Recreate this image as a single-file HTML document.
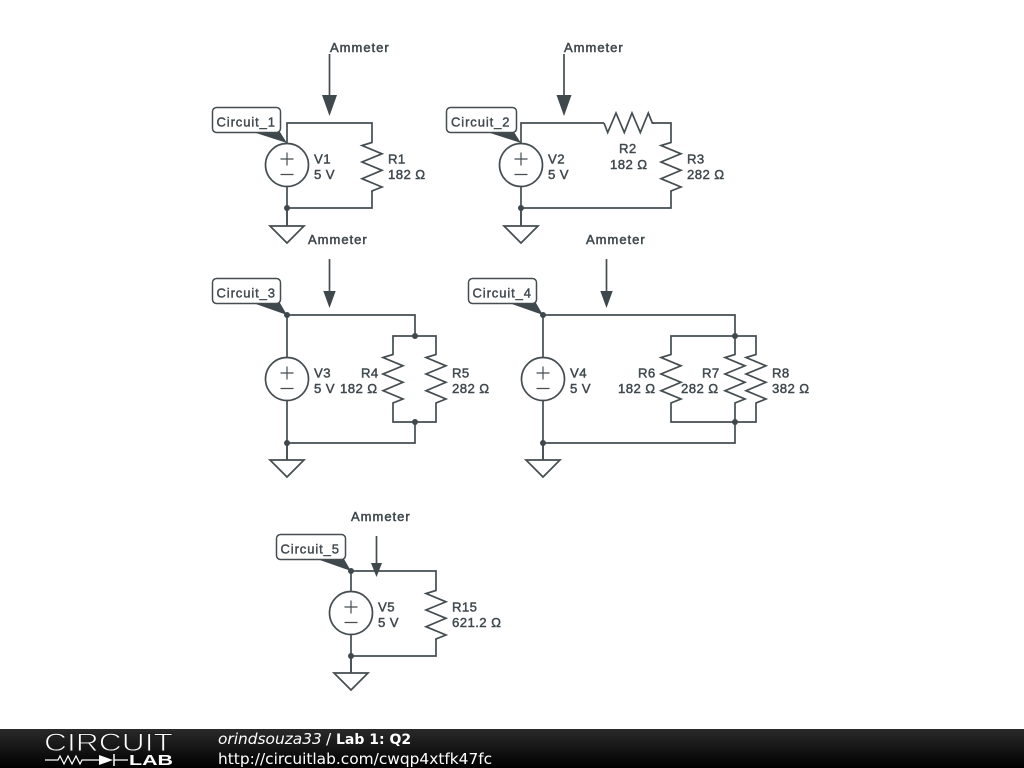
<!DOCTYPE html>
<html>
<head>
<meta charset="utf-8">
<style>
html,body{margin:0;padding:0;background:#fff;width:1024px;height:768px;overflow:hidden}
svg{display:block}
.w{fill:none;stroke:#454d51;stroke-width:1.7;stroke-linejoin:miter}
.t{font-family:"Liberation Sans",sans-serif;font-size:13.2px;fill:#3f484d;stroke:#3f484d;stroke-width:.45;letter-spacing:.4px}
.a{font-family:"Liberation Sans",sans-serif;font-size:13px;fill:#3f484d;stroke:#3f484d;stroke-width:.5;letter-spacing:1px}
.c{font-family:"Liberation Sans",sans-serif;font-size:13px;fill:#3f484d;stroke:#3f484d;stroke-width:.4;letter-spacing:.9px}
.f{font-family:"DejaVu Sans",sans-serif;font-size:15.4px;fill:#fff}
</style>
</head>
<body>
<svg width="1024" height="768" viewBox="0 0 1024 768" xmlns="http://www.w3.org/2000/svg">
<defs>
<linearGradient id="g" x1="0" y1="0" x2="0" y2="1"><stop offset="0" stop-color="#2a2a2a"/><stop offset="1" stop-color="#000"/></linearGradient>
<g id="res"><polyline class="w" points="0,0 0,0.500 -10,3.500 10,11.800 -10,20 10,28.300 -10,36.700 10,45 0,49 0,50"/></g>
<g id="src"><circle class="w" cx="0" cy="0" r="21.500" fill="#fff"/><path class="w" style="stroke-width:1.2" d="M-6.500,-6H6.500M0,-12.500V0.500M-6.500,9.500H6.500"/></g>
<g id="gnd"><path class="w" d="M0,-17V0M-17,0H17L0,17Z"/></g>
</defs>

<!-- Circuit 1 -->
<path class="w" d="M287,143V123H372V142M372,191V208H287M287,187V226"/>
<use href="#src" x="287" y="165"/>
<use href="#res" x="372" y="142"/>
<use href="#gnd" x="287" y="226"/>
<circle cx="287" cy="208" r="3" fill="#3f484d"/>
<path class="w" d="M329.500,54V98"/><path d="M322,95H337L329.500,116Z" fill="#3f484d"/>
<text class="a" x="330" y="52">Ammeter</text>
<path d="M253,132L280,132L287,143Z" fill="#3f484d"/>
<rect x="212.500" y="107.500" width="68" height="25" rx="4" fill="#fff" stroke="#454d51" stroke-width="1.500"/>
<text class="c" x="216.500" y="126.500">Circuit_1</text>
<text class="t" x="314" y="163.500">V1</text><text class="t" x="314" y="179">5 V</text>
<text class="t" x="388" y="163.500">R1</text><text class="t" x="388" y="179">182 Ω</text>

<!-- Circuit 2 -->
<path class="w" d="M521,143V123H604M652,123H671V142M671,191V208H521M521,187V226"/>
<use href="#src" x="521" y="165"/>
<use href="#res" x="671" y="142"/>
<polyline class="w" points="604,123 607.700,132.500 616,113 624.300,132.500 632,113 640.300,132.500 648.300,113 652.300,123 654,123"/>
<use href="#gnd" x="521" y="226"/>
<circle cx="521" cy="208" r="3" fill="#3f484d"/>
<path class="w" d="M564,54V98"/><path d="M556.500,95H571.500L564,116Z" fill="#3f484d"/>
<text class="a" x="564" y="52">Ammeter</text>
<path d="M487,132L514,132L521,143Z" fill="#3f484d"/>
<rect x="446.500" y="107.500" width="70" height="25" rx="4" fill="#fff" stroke="#454d51" stroke-width="1.500"/>
<text class="c" x="451" y="126.500">Circuit_2</text>
<text class="t" x="548" y="163.500">V2</text><text class="t" x="548" y="179">5 V</text>
<text class="t" x="619" y="153">R2</text><text class="t" x="610" y="169">182 Ω</text>
<text class="t" x="687" y="163.500">R3</text><text class="t" x="687" y="179">282 Ω</text>

<!-- Circuit 3 -->
<path class="w" d="M287,357V315H415V336M393,354V336H436V354M393,404V422H436V404M415,422V443H287M287,401V460"/>
<use href="#src" x="287" y="379"/>
<use href="#res" x="393" y="354"/>
<use href="#res" x="436" y="354"/>
<use href="#gnd" x="287" y="460"/>
<circle cx="287" cy="315" r="3" fill="#3f484d"/><circle cx="415" cy="336" r="3" fill="#3f484d"/><circle cx="415" cy="422" r="3" fill="#3f484d"/><circle cx="287" cy="443" r="3" fill="#3f484d"/>
<path class="w" d="M329.500,259V292"/><path d="M323.300,291H335.700L329.500,308Z" fill="#3f484d"/>
<text class="a" x="308" y="244">Ammeter</text>
<path d="M253,303L280,303L287,315Z" fill="#3f484d"/>
<rect x="212.500" y="278.500" width="68" height="25" rx="4" fill="#fff" stroke="#454d51" stroke-width="1.500"/>
<text class="c" x="216.500" y="297.500">Circuit_3</text>
<text class="t" x="314" y="377.500">V3</text><text class="t" x="314" y="393">5 V</text>
<text class="t" x="361" y="377.500">R4</text><text class="t" x="340" y="393">182 Ω</text>
<text class="t" x="452" y="377.500">R5</text><text class="t" x="452" y="393">282 Ω</text>

<!-- Circuit 4 -->
<path class="w" d="M543,357V315H735V336M671,354V336H756V354M735,336V354M671,404V422H756V404M735,404V443H543M543,401V460"/>
<use href="#src" x="543" y="379"/>
<use href="#res" x="671" y="354"/>
<use href="#res" x="735" y="354"/>
<use href="#res" x="756" y="354"/>
<use href="#gnd" x="543" y="460"/>
<circle cx="543" cy="315" r="3" fill="#3f484d"/><circle cx="735" cy="336" r="3" fill="#3f484d"/><circle cx="735" cy="422" r="3" fill="#3f484d"/><circle cx="543" cy="443" r="3" fill="#3f484d"/>
<path class="w" d="M606.500,259V292"/><path d="M600.300,291H612.700L606.500,308Z" fill="#3f484d"/>
<text class="a" x="586" y="244">Ammeter</text>
<path d="M509,303L536,303L543,315Z" fill="#3f484d"/>
<rect x="468.500" y="278.500" width="68" height="25" rx="4" fill="#fff" stroke="#454d51" stroke-width="1.500"/>
<text class="c" x="472.500" y="297.500">Circuit_4</text>
<text class="t" x="570" y="377.500">V4</text><text class="t" x="570" y="393">5 V</text>
<text class="t" x="638" y="377.500">R6</text><text class="t" x="618" y="393">182 Ω</text>
<text class="t" x="702" y="377.500">R7</text><text class="t" x="681" y="393">282 Ω</text>
<text class="t" x="772" y="377.500">R8</text><text class="t" x="772" y="393">382 Ω</text>

<!-- Circuit 5 -->
<path class="w" d="M351,592V571H436V590M436,639V656H351M351,634V673"/>
<use href="#src" x="351" y="613"/>
<use href="#res" x="436" y="590"/>
<use href="#gnd" x="351" y="673"/>
<circle cx="351" cy="571" r="3" fill="#3f484d"/><circle cx="351" cy="656" r="3" fill="#3f484d"/>
<path class="w" d="M376.500,536V566"/><path d="M371,563H382L376.500,577Z" fill="#3f484d"/>
<text class="a" x="351" y="521">Ammeter</text>
<path d="M317,559L344,559L351,571Z" fill="#3f484d"/>
<rect x="276.500" y="534.500" width="69" height="25" rx="4" fill="#fff" stroke="#454d51" stroke-width="1.500"/>
<text class="c" x="280.500" y="553.500">Circuit_5</text>
<text class="t" x="378" y="611.500">V5</text><text class="t" x="378" y="627">5 V</text>
<text class="t" x="452" y="611.500">R15</text><text class="t" x="452" y="627">621.2 Ω</text>

<!-- Footer -->
<rect x="0" y="729" width="1024" height="39" fill="url(#g)"/>
<text x="44" y="751" font-family="Liberation Sans,sans-serif" font-size="25" fill="#fff" stroke="#1c1c1c" stroke-width=".9" textLength="129" lengthAdjust="spacingAndGlyphs">CIRCUIT</text>
<path d="M45,760H58L60,756 64,764 68,756 72,764 76,756 80,764 82,760H99M114,760H128" fill="none" stroke="#fff" stroke-width="1.200"/>
<path d="M99,755V765L113,760Z" fill="#fff"/><path d="M114,754V766" stroke="#fff" stroke-width="1.500"/>
<text x="129" y="765" font-family="Liberation Sans,sans-serif" font-size="15" font-weight="bold" fill="#fff" textLength="44" lengthAdjust="spacingAndGlyphs">LAB</text>
<text class="f" x="218" y="744" font-style="italic">orindsouza33</text>
<text class="f" x="326" y="744">/</text>
<text class="f" x="336" y="744" style="font-size:14px;font-weight:bold">Lab 1: Q2</text>
<text class="f" x="218" y="764">http://circuitlab.com/cwqp4xtfk47fc</text>
</svg>
</body>
</html>
